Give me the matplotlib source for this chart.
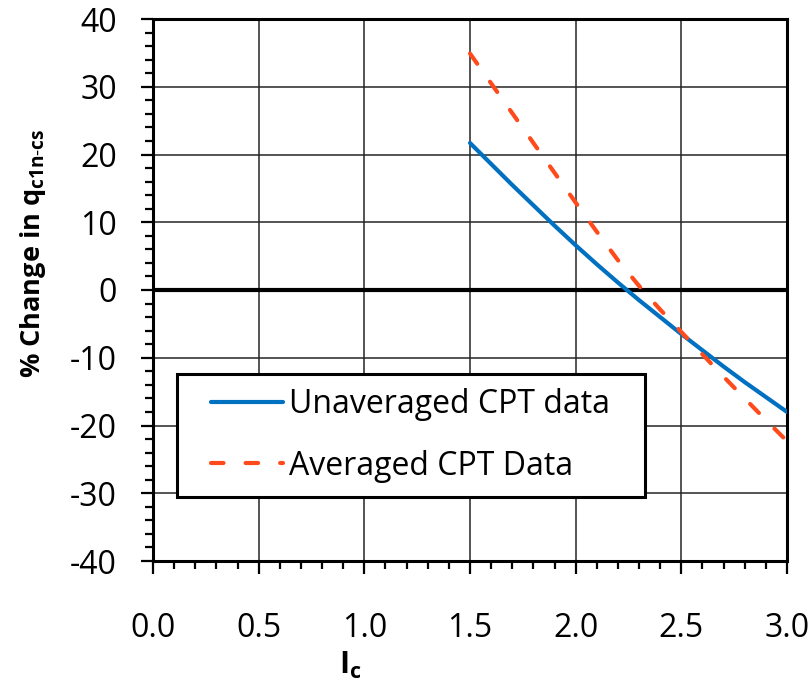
import matplotlib
matplotlib.use('Agg')
import matplotlib.pyplot as plt
import numpy as np
from matplotlib.ticker import MultipleLocator, FormatStrFormatter
from matplotlib.legend_handler import HandlerLine2D

plt.rcParams['font.family'] = ['Open Sans', 'DejaVu Sans']
plt.rcParams['axes.unicode_minus'] = False
plt.rcParams['mathtext.fontset'] = 'custom'
plt.rcParams['mathtext.rm'] = 'Open Sans'
plt.rcParams['mathtext.bf'] = 'Open Sans:bold'

# data
ic = [1.5, 1.6, 1.7, 1.8, 1.9, 2.0, 2.1, 2.2, 2.3, 2.4, 2.5, 2.6, 2.7, 2.8, 2.9, 3.0]
unaveraged = [21.7, 18.6, 15.5, 12.5, 9.5, 6.6, 3.8, 1.1, -1.5, -4.0,
              -6.5, -8.9, -11.3, -13.6, -15.8, -18.0]
averaged = [34.9, 30.5, 26.1, 21.7, 17.3, 12.9, 8.6, 4.4, 0.6, -2.9,
            -6.2, -9.5, -12.8, -16.0, -19.2, -22.3]

blue = '#0070C0'
red = '#FF4A1C'

fig = plt.figure(figsize=(8.11, 6.94), dpi=100)
ax = fig.add_axes([153/811, 1-561/694, (787-153)/811, (561-19)/694])

ax.plot(ic, unaveraged, color=blue, lw=3.0, solid_capstyle='round',
        label='Unaveraged CPT data', zorder=3)
ax.plot(ic, averaged, color=red, lw=3.0, linestyle=(0, (3, 5.3)),
        dash_capstyle='round', label='Averaged CPT Data', zorder=3)
ax.axhline(0, color='black', lw=3, zorder=2)

ax.set_xlim(0, 3)
ax.set_ylim(-40, 40)
ax.xaxis.set_major_locator(MultipleLocator(0.5))
ax.xaxis.set_minor_locator(MultipleLocator(0.1))
ax.yaxis.set_major_locator(MultipleLocator(10))
ax.yaxis.set_minor_locator(MultipleLocator(2))
ax.xaxis.set_major_formatter(FormatStrFormatter('%.1f'))

ax.grid(True, which='major', color='#262626', lw=1.1)
ax.set_axisbelow(True)
for s in ax.spines.values():
    s.set_linewidth(2.2)
    s.set_color('black')

ax.tick_params(which='major', direction='out', length=9, width=1.6,
               labelsize=23, color='black')
ax.tick_params(which='minor', direction='out', length=5.5, width=1.6, color='black')
ax.tick_params(axis='x', which='major', pad=28)
ax.tick_params(axis='y', which='major', pad=17)

ax.set_ylabel(r'% Change in q$_{\mathbf{c1n\text{-}cs}}$', fontsize=19.5, fontweight='bold')
ax.yaxis.set_label_coords(-0.165, 0.568)
ax.set_xlabel(r'I$_{\mathbf{c}}$', fontsize=22, fontweight='bold')
ax.xaxis.set_label_coords(0.311, -0.164)

leg = ax.legend(loc='lower left', bbox_to_anchor=(0.038, 0.118, 0.738, 0.225),
                mode='expand', fontsize=23, frameon=True, fancybox=False,
                framealpha=1, edgecolor='black', borderpad=0.45,
                labelspacing=0.9, handlelength=2.85, handletextpad=0.2,
                borderaxespad=0,
                handler_map={matplotlib.lines.Line2D: HandlerLine2D(xpad=0.6)})
leg.get_frame().set_linewidth(2.2)

fig.savefig('out.png', dpi=100)
